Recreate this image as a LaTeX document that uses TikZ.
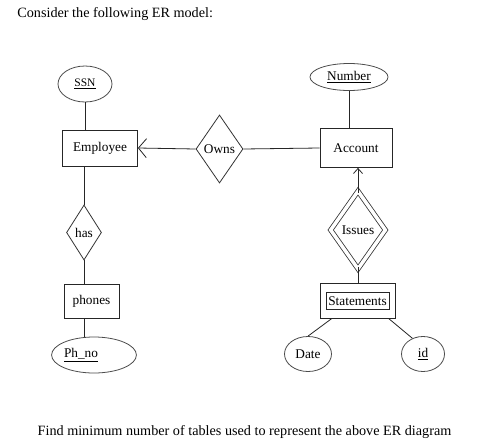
\documentclass[tikz,border=0pt]{standalone}
\usepackage{fontspec}
\setmainfont{Liberation Serif}
\usetikzlibrary{shapes.geometric,arrows.meta,calc}
\begin{document}
\begin{tikzpicture}[x=1pt,y=-1pt,
  line width=0.8pt,
  ent/.style={draw=black!85, rectangle, inner sep=0pt, font=\fontsize{13.3}{15}\selectfont},
  attr/.style={draw=black!70, ellipse, inner sep=0pt, font=\fontsize{13.3}{15}\selectfont},
  rel/.style={draw=black!80, diamond, inner sep=0pt, font=\fontsize{13.3}{15}\selectfont},
  conn/.style={draw=black!85},
  body/.style={font=\fontsize{14.2}{17}\selectfont, inner sep=0pt}]
\useasboundingbox (0,0) rectangle (479,447);
\fill[white] (0,0) rectangle (479,447);
% texts
\node[body, anchor=west] (title) at (17,14) {Consider the following ER model:};
\node[body] (question) at (244.5,432) {Find minimum number of tables used to represent the above ER diagram};
% entities
\node[ent, minimum width=75pt, minimum height=36pt] (emp) at (100,148) {Employee};
\node[ent, minimum width=72pt, minimum height=39pt] (acc) at (356,148) {Account};
\node[ent, minimum width=55pt, minimum height=34pt] (phones) at (91.5,301) {phones};
\node[ent, minimum width=75pt, minimum height=35pt] (stmt) at (357.5,300.5) {};
\node[ent, minimum width=63pt, minimum height=17pt] (stmtin) at (357.5,301) {Statements};
% attributes
\node[attr, minimum width=54pt, minimum height=36pt, font=\fontsize{11.5}{13}\selectfont] (ssn) at (85,84) {\underline{SSN}};
\node[attr, minimum width=78pt, minimum height=27pt] (num) at (349,77) {\underline{Number}};
\node[attr, minimum width=76pt, minimum height=36pt] (phno) at (94,355) {\underline{Ph\_no}\hspace*{26pt}};
\node[attr, minimum width=47pt, minimum height=35pt] (date) at (308,354) {Date};
\node[attr, minimum width=43pt, minimum height=35pt] (id) at (423,354) {\underline{id}};
% relationships
\node[rel, minimum width=47pt, minimum height=68pt] (owns) at (219.5,149) {Owns};
\node[rel, minimum width=35pt, minimum height=55pt] (has) at (84,232.5) {has};
\node[rel, minimum width=55pt, minimum height=78pt, double=white, double distance=3.5pt] (issues) at (358,230) {Issues};
% connectors
\draw[conn] (ssn.south) -- (ssn.south |- emp.north);
\draw[conn] (num.south) -- (num.south |- acc.north);
\draw[conn, -{Straight Barb[length=8pt,width=19pt]}] (owns.west) -- (emp.east);
\draw[conn] (owns.east) -- (acc.west);
\draw[conn] (has.north) -- (has.north |- emp.south);
\draw[conn] (has.south) -- (has.south |- phones.north);
\draw[conn] (phones.south -| has.south) -- (phno.north -| has.south);
\draw[conn, -{Straight Barb[length=5pt,width=9pt]}] ([yshift=-2pt]issues.north) -- (issues.north |- acc.south);
\draw[conn] ([yshift=2pt]issues.south) -- (issues.south |- stmt.north);
\draw[conn] (stmt.215) -- (date.north);
\draw[conn] (stmt.-30) -- (id.124);
\end{tikzpicture}
\end{document}
